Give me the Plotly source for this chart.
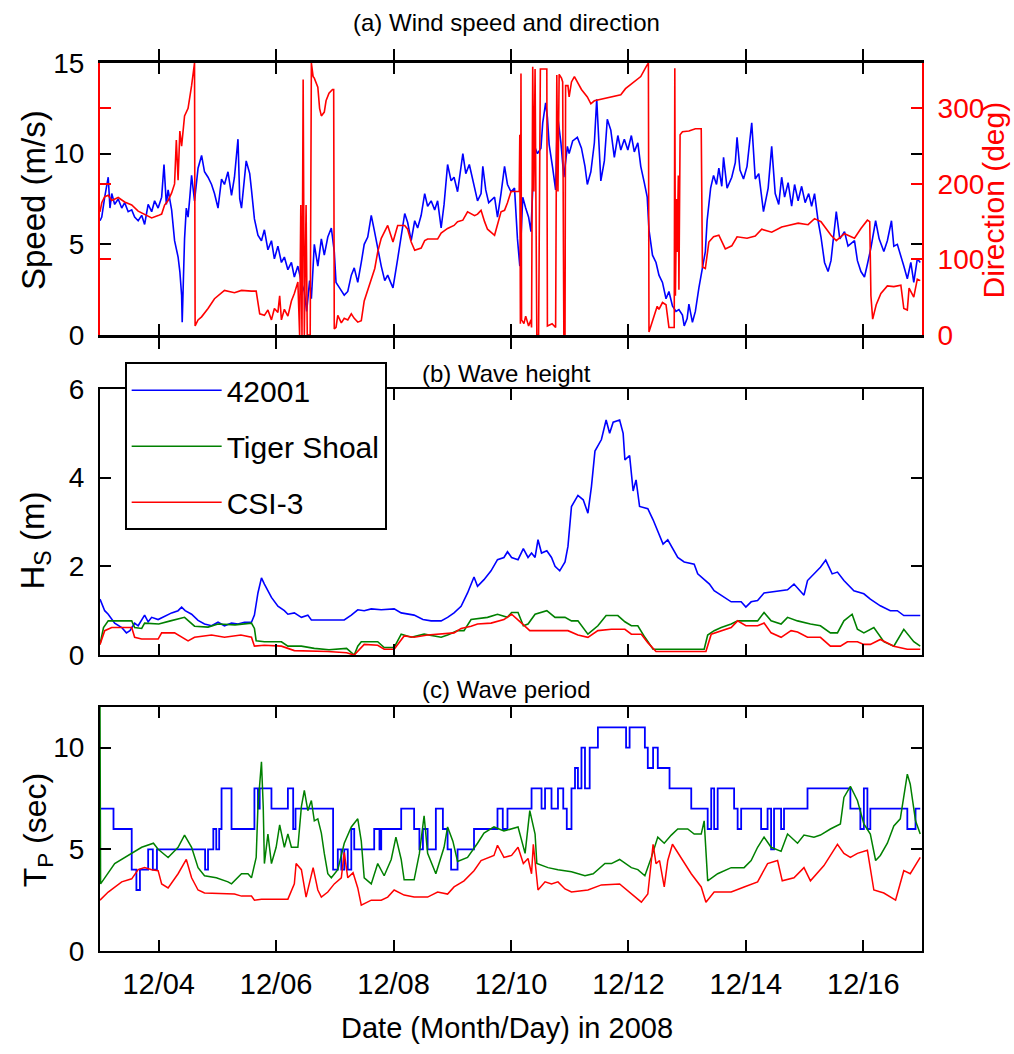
import numpy as np
import pandas as pd
import plotly.graph_objects as go

# ---------------- data (day of December 2008, value) ----------------
spd_day = [3.00,3.03,3.08,3.14,3.17,3.20,3.25,3.31,3.37,3.42,3.48,3.54,3.59,3.65,3.71,3.76,3.82,3.88,3.93,3.99,
           4.05,4.09,4.13,4.16,4.22,4.27,4.33,4.36,4.39,4.40,4.42,4.44,4.47,4.50,4.53,4.56,4.61,4.67,4.73,4.78,
           4.84,4.90,4.95,5.01,5.07,5.12,5.18,5.24,5.29,5.35,5.38,5.41,5.49,5.55,5.58,5.63,5.69,5.75,5.80,5.86,
           5.92,5.97,6.03,6.09,6.14,6.20,6.26,6.31,6.37,6.43,6.48,6.52,6.57,6.60,6.65,6.71,6.77,6.82,6.88,6.94,
           6.99,7.02,7.08,7.16,7.22,7.28,7.33,7.39,7.45,7.50,7.56,7.62,7.67,7.73,7.79,7.85,7.90,7.95,7.99,8.07,
           8.13,8.19,8.24,8.30,8.36,8.41,8.47,8.53,8.58,8.64,8.70,8.75,8.81,8.86,8.92,8.98,9.03,9.09,9.18,9.23,
           9.29,9.35,9.43,9.49,9.52,9.57,9.62,9.72,9.77,9.83,9.89,9.94,10.00,10.06,10.11,10.15,10.20,10.25,10.30,10.34,
           10.40,10.45,10.51,10.54,10.59,10.62,10.65,10.71,10.76,10.79,10.85,10.90,10.96,10.99,11.05,11.13,11.20,11.26,11.30,11.36,
           11.42,11.46,11.50,11.53,11.59,11.64,11.70,11.76,11.82,11.87,11.93,11.99,12.05,12.10,12.16,12.21,12.27,12.32,12.35,12.41,
           12.47,12.52,12.58,12.64,12.69,12.75,12.81,12.86,12.92,12.95,13.00,13.03,13.09,13.14,13.20,13.25,13.31,13.34,13.40,13.45,
           13.50,13.54,13.59,13.62,13.68,13.76,13.82,13.85,13.90,13.96,14.02,14.10,14.16,14.22,14.27,14.30,14.38,14.44,14.50,14.56,
           14.61,14.66,14.72,14.78,14.83,14.89,14.95,15.01,15.07,15.12,15.17,15.23,15.28,15.34,15.40,15.45,15.54,15.60,15.68,15.74,
           15.85,15.90,15.96,16.02,16.07,16.13,16.21,16.27,16.35,16.41,16.48,16.52,16.58,16.64,16.69,16.75,16.81,16.86,16.92,16.97]
spd = [6.3,6.5,7.6,8.7,7.0,7.8,7.2,7.5,7.0,7.3,6.8,6.9,6.5,6.3,6.6,6.1,7.2,6.8,7.4,7.0,
       7.6,9.4,7.2,8.0,6.9,5.2,4.3,3.5,2.2,0.7,3.0,5.3,7.0,6.5,7.6,8.8,7.4,9.2,9.9,9.0,
       8.7,8.3,7.8,7.0,8.6,8.3,9.0,7.7,8.7,10.8,7.5,7.0,9.6,8.9,8.0,6.4,5.5,5.2,5.8,4.7,
       5.2,4.2,4.9,4.0,4.3,3.6,4.0,3.2,3.8,2.9,2.4,1.3,3.0,2.0,5.0,3.8,5.3,4.4,5.4,5.9,
       4.6,2.9,2.6,2.2,2.4,3.3,3.7,2.9,4.0,5.0,5.4,6.6,5.8,4.7,3.8,3.0,3.3,2.9,2.6,4.2,
       5.5,6.7,6.2,5.2,6.3,5.9,6.6,7.8,7.1,7.4,6.9,7.4,5.9,7.2,9.4,8.5,8.7,7.9,10.0,8.9,
       9.4,8.6,7.4,7.8,9.3,8.0,7.3,7.6,6.5,7.8,9.3,8.3,7.9,8.1,5.3,3.8,7.6,7.0,6.5,5.7,
       10.4,10.0,10.3,11.7,12.8,12.0,10.5,9.2,8.0,12.2,10.6,8.7,10.4,10.0,10.7,10.9,10.3,9.3,8.3,9.0,
       10.6,13.0,10.2,8.5,9.6,11.9,11.3,9.8,11.0,10.2,10.8,10.2,11.0,10.1,10.6,9.3,8.4,7.6,5.8,4.4,
       4.0,3.3,2.9,2.0,2.4,1.6,1.3,1.4,1.1,0.5,0.9,1.7,0.7,1.3,2.6,3.6,4.6,6.3,8.1,8.8,
       8.3,9.2,8.2,9.8,8.1,8.7,9.5,10.9,9.1,8.6,9.3,11.7,8.6,8.9,7.6,6.8,8.1,10.4,7.8,7.2,
       8.7,7.6,8.4,7.1,8.3,7.4,8.2,7.3,7.8,7.1,7.8,6.3,5.4,4.0,3.5,4.1,6.8,5.3,5.7,4.9,
       5.2,4.1,3.5,3.2,3.9,4.8,6.3,5.3,4.6,5.2,6.3,4.9,5.0,4.4,3.8,3.1,4.0,2.9,4.2,4.0]

dir_day = [3.00,3.03,3.08,3.14,3.20,3.31,3.42,3.54,3.65,3.76,3.88,3.99,4.05,4.10,4.16,4.22,4.27,4.30,4.33,4.36,
           4.39,4.44,4.50,4.56,4.61,4.62,4.67,4.73,4.84,4.95,5.07,5.12,5.29,5.41,5.58,5.66,5.72,5.80,5.86,5.92,
           5.97,6.03,6.06,6.09,6.14,6.20,6.26,6.31,6.37,6.40,6.42,6.44,6.46,6.48,6.51,6.53,6.58,6.60,6.63,6.65,
           6.71,6.74,6.77,6.82,6.85,6.90,6.96,6.98,6.99,7.02,7.05,7.11,7.16,7.22,7.28,7.33,7.39,7.45,7.50,7.56,
           7.62,7.68,7.73,7.79,7.90,7.99,8.07,8.19,8.24,8.30,8.36,8.47,8.53,8.58,8.75,8.81,8.92,9.03,9.09,9.18,
           9.26,9.32,9.38,9.43,9.49,9.55,9.60,9.72,9.77,9.83,9.89,9.94,10.00,10.06,10.11,10.14,10.15,10.16,10.17,10.18,
           10.22,10.25,10.30,10.34,10.35,10.37,10.39,10.41,10.44,10.47,10.50,10.61,10.62,10.70,10.76,10.78,10.80,10.82,10.86,10.88,
           10.90,10.92,10.93,10.97,10.99,11.03,11.08,11.13,11.20,11.30,11.36,11.42,11.53,11.64,11.76,11.87,11.95,12.02,12.10,12.21,
           12.30,12.34,12.35,12.41,12.49,12.52,12.58,12.64,12.69,12.75,12.78,12.79,12.80,12.82,12.83,12.85,12.86,12.88,12.92,13.03,
           13.14,13.24,13.26,13.31,13.37,13.45,13.54,13.65,13.76,13.85,14.02,14.16,14.27,14.44,14.61,14.72,14.89,15.06,15.17,15.28,
           15.45,15.54,15.68,15.85,15.96,16.07,16.11,16.13,16.16,16.22,16.30,16.41,16.52,16.64,16.69,16.75,16.78,16.86,16.92,16.97]
direction = [163,175,183,185,178,182,176,172,164,160,155,158,160,172,178,188,200,258,205,270,
             250,290,300,330,360,12,20,24,35,48,56,59,56,59,58,58,28,26,33,20,
             35,30,52,20,34,25,45,55,70,0,172,0,338,0,172,0,0,360,342,340,
             328,300,290,295,310,320,325,325,8,10,26,16,22,20,28,22,17,19,45,60,
             75,88,110,128,145,123,145,145,140,123,112,115,125,127,127,135,141,145,150,152,
             163,160,158,160,165,150,140,132,145,163,165,175,190,190,190,190,265,15,346,20,
             15,25,12,20,10,355,190,352,0,0,352,352,12,15,10,344,190,345,340,335,
             0,0,330,330,315,335,342,335,325,315,306,310,312,314,316,318,326,330,335,342,
             355,360,4,20,38,34,43,40,10,10,10,353,52,180,110,211,60,265,269,270,
             273,273,90,88,123,130,132,114,118,130,128,131,140,136,143,145,148,146,154,150,
             132,125,134,128,141,152,150,52,21,40,55,65,64,66,35,33,62,50,74,72]

hs1_day = [3.00,3.08,3.14,3.25,3.37,3.45,3.51,3.59,3.65,3.76,3.82,3.88,3.99,4.10,4.22,4.33,4.39,4.45,4.56,4.67,
           4.78,4.90,5.01,5.12,5.24,5.35,5.46,5.58,5.63,5.69,5.75,5.80,5.92,6.03,6.14,6.20,6.31,6.43,6.54,6.60,
           6.71,7.16,7.28,7.39,7.50,7.62,7.79,8.01,8.13,8.24,8.35,8.50,8.64,8.81,8.92,9.03,9.15,9.26,9.37,9.43,
           9.54,9.66,9.77,9.88,9.94,10.01,10.12,10.21,10.29,10.35,10.41,10.46,10.52,10.61,10.69,10.75,10.83,10.92,10.97,11.03,
           11.14,11.23,11.31,11.37,11.43,11.54,11.62,11.68,11.74,11.85,11.91,11.94,12.02,12.08,12.13,12.19,12.33,12.42,12.50,12.59,
           12.67,12.84,12.95,13.12,13.18,13.29,13.38,13.46,13.63,13.75,13.92,14.00,14.09,14.20,14.31,14.54,14.71,14.82,14.93,14.99,
           15.05,15.16,15.27,15.36,15.47,15.56,15.67,15.84,16.01,16.12,16.29,16.46,16.58,16.69,16.97]
hs1 = [1.26,1.0,0.92,0.72,0.62,0.5,0.55,0.72,0.66,0.90,0.75,0.85,0.80,0.88,0.95,1.0,1.08,1.0,0.92,0.78,
       0.70,0.66,0.74,0.66,0.72,0.70,0.74,0.74,0.90,1.4,1.74,1.6,1.3,1.1,1.0,0.92,0.95,0.85,0.90,0.79,
       0.79,0.79,0.90,1.02,1.0,1.04,1.02,1.04,0.95,0.92,0.90,0.80,0.77,0.77,0.85,0.95,1.1,1.4,1.76,1.55,
       1.7,1.9,2.15,2.2,2.33,2.2,2.15,2.40,2.2,2.3,2.2,2.6,2.3,2.35,2.2,2.0,1.9,2.1,2.45,3.35,
       3.6,3.5,3.2,3.8,4.6,4.86,5.3,5.0,5.25,5.3,5.0,4.4,4.5,3.7,3.95,3.35,3.3,3.05,2.8,2.5,
       2.6,2.2,2.1,2.05,1.83,1.7,1.6,1.45,1.3,1.2,1.2,1.08,1.2,1.23,1.4,1.45,1.47,1.6,1.45,1.35,
       1.68,1.83,1.98,2.14,1.83,1.87,1.68,1.45,1.38,1.26,1.11,1.0,1.0,0.89,0.89]

hs2_day = [3.00,3.06,3.14,3.54,3.59,3.71,3.76,4.00,4.20,4.44,4.61,4.84,5.01,5.30,5.58,5.63,5.66,5.80,6.09,6.20,
           6.43,6.65,6.90,7.20,7.33,7.39,7.45,7.73,7.84,8.01,8.13,8.30,8.52,8.81,8.92,9.09,9.20,9.32,9.60,9.77,
           9.94,10.01,10.12,10.21,10.29,10.41,10.61,10.75,10.92,11.03,11.14,11.31,11.48,11.62,11.82,11.94,12.05,12.16,12.28,12.42,
           13.29,13.35,13.46,13.58,13.75,13.86,14.20,14.31,14.43,14.60,14.71,14.88,15.10,15.27,15.44,15.56,15.67,15.81,15.90,16.01,
           16.18,16.35,16.52,16.69,16.86,16.97]
hs2 = [0.24,0.62,0.77,0.77,0.62,0.60,0.72,0.70,0.77,0.85,0.65,0.63,0.70,0.68,0.72,0.60,0.32,0.30,0.30,0.20,
       0.20,0.15,0.12,0.15,0.0,0.2,0.30,0.30,0.17,0.17,0.47,0.40,0.47,0.40,0.45,0.55,0.55,0.80,0.85,0.92,
       0.85,0.96,0.96,0.66,0.70,0.92,1.0,0.85,0.85,0.77,0.77,0.47,0.66,0.89,0.89,0.75,0.66,0.66,0.40,0.13,
       0.13,0.45,0.55,0.62,0.70,0.77,0.77,0.96,0.77,0.70,0.85,0.77,0.70,0.66,0.50,0.50,0.77,0.92,0.58,0.50,
       0.62,0.30,0.20,0.58,0.30,0.20]

hs3_day = [3.00,3.08,3.20,3.54,3.59,3.71,3.99,4.05,4.27,4.50,4.61,4.90,5.12,5.40,5.58,5.63,5.80,6.09,6.31,6.88,
           7.20,7.33,7.50,7.73,7.84,8.01,8.18,8.35,8.58,8.92,9.03,9.15,9.32,9.43,9.66,9.88,10.01,10.18,10.32,10.58,
           10.97,11.14,11.31,11.48,11.71,11.94,12.05,12.22,12.33,12.47,13.32,13.41,13.58,13.75,13.86,14.00,14.20,14.31,14.43,14.60,
           14.77,14.88,15.05,15.27,15.44,15.61,15.73,15.90,16.01,16.12,16.29,16.52,16.75,16.97]
hs3 = [0.24,0.55,0.62,0.62,0.40,0.36,0.36,0.50,0.50,0.32,0.40,0.45,0.40,0.45,0.40,0.20,0.22,0.20,0.10,0.08,
       0.05,0.0,0.24,0.22,0.13,0.13,0.43,0.40,0.45,0.50,0.50,0.60,0.65,0.70,0.72,0.80,0.92,0.72,0.55,0.55,
       0.55,0.45,0.40,0.55,0.58,0.58,0.47,0.47,0.28,0.08,0.08,0.47,0.55,0.62,0.77,0.66,0.66,0.72,0.50,0.40,
       0.55,0.52,0.40,0.40,0.20,0.20,0.30,0.30,0.24,0.24,0.35,0.20,0.13,0.13]

tp1_day = [3.00,3.23,3.54,3.62,3.68,3.82,3.90,3.97,4.79,4.84,4.93,4.98,5.03,5.07,5.24,5.63,5.69,5.72,5.92,6.20,
           6.29,6.33,6.97,7.05,7.11,7.16,7.22,7.28,7.33,7.67,7.76,7.79,8.13,8.35,8.44,8.50,8.58,8.72,8.84,8.92,
           8.98,9.09,9.37,9.77,9.86,9.94,10.35,10.52,10.58,10.69,10.80,10.89,10.95,11.03,11.09,11.14,11.20,11.26,11.34,11.48,
           11.96,12.02,12.28,12.33,12.42,12.50,12.70,13.07,13.35,13.41,13.46,13.52,13.80,13.86,13.92,14.26,14.37,14.43,14.48,14.60,
           14.65,15.05,15.78,15.95,16.01,16.07,16.12,16.75,16.89,16.97]
tp1 = [7,6,4,3,4,5,4,5,4,5,6,5,6,8,6,8,7,8,7,8,
       6,7,4,5,4,5,4,6,5,6,5,6,7,6,5,6,5,7,6,5,
       4,5,6,7,6,7,8,7,8,7,8,7,6,8,9,8,10,8,10,11,
       10,11,10,9,10,9,8,7,6,8,6,8,7,6,7,6,7,5,7,6,
       7,8,7,6,8,6,7,6,7,7]

tp2_day = [3.00,3.01,3.25,3.48,3.71,3.91,3.99,4.16,4.33,4.44,4.56,4.67,4.78,4.98,5.18,5.24,5.41,5.52,5.58,5.66,
           5.69,5.75,5.78,5.80,5.86,5.92,6.00,6.06,6.14,6.20,6.26,6.37,6.43,6.48,6.54,6.60,6.65,6.71,6.77,6.82,
           6.88,6.94,7.05,7.16,7.28,7.39,7.45,7.50,7.62,7.73,7.84,7.96,8.04,8.13,8.18,8.35,8.44,8.52,8.58,8.72,
           8.86,8.92,9.01,9.09,9.26,9.43,9.54,9.71,9.88,10.12,10.24,10.32,10.41,10.44,10.63,10.80,11.03,11.26,11.40,11.60,
           11.71,11.85,12.05,12.16,12.28,12.39,12.50,12.61,12.73,12.84,13.01,13.12,13.24,13.29,13.35,13.52,13.75,13.97,14.09,14.20,
           14.31,14.43,14.60,14.71,14.88,14.99,15.16,15.27,15.44,15.61,15.67,15.78,15.90,16.01,16.12,16.21,16.29,16.41,16.52,16.63,
           16.69,16.75,16.80,16.89,16.97]
tp2 = [12.0,3.3,4.3,4.7,5.1,5.3,5.0,4.6,5.1,5.7,5.1,4.1,3.7,3.6,3.4,3.3,3.8,3.8,3.6,4.6,
       7.1,9.3,7.1,4.3,5.75,4.3,5.1,6.2,5.1,5.75,5.1,5.1,7.1,7.9,6.9,7.4,6.4,6.5,5.8,4.8,
       3.8,3.6,4.0,5.3,6.1,6.5,5.4,3.6,3.3,4.3,3.7,4.5,5.6,4.5,3.5,3.5,4.8,6.65,4.8,3.8,
       5.1,6.1,5.4,4.4,4.6,5.3,5.8,6.1,5.9,6.1,4.8,6.9,5.75,4.3,4.1,4.0,3.9,3.7,3.8,4.3,
       4.3,4.5,4.1,4.0,3.7,4.6,5.6,5.3,5.7,6.0,6.0,5.75,5.75,6.4,3.45,3.8,4.1,4.1,4.45,5.1,
       5.6,5.1,4.9,5.75,5.3,5.7,5.6,5.7,6.0,6.25,7.55,8.1,7.4,6.25,5.75,4.45,4.7,5.3,6.15,6.5,
       7.5,8.7,8.2,6.4,5.75]

tp3_day = [3.00,3.14,3.37,3.54,3.65,3.76,3.88,3.99,4.05,4.16,4.33,4.47,4.56,4.67,4.78,5.29,5.41,5.58,5.63,5.75,
           6.20,6.31,6.34,6.43,6.51,6.63,6.71,6.77,6.88,6.99,7.11,7.16,7.22,7.31,7.39,7.45,7.62,7.79,7.90,8.01,
           8.18,8.35,8.58,8.75,8.92,9.03,9.20,9.37,9.49,9.71,9.77,9.88,10.01,10.12,10.21,10.29,10.35,10.38,10.46,10.58,
           10.69,10.80,10.92,11.03,11.31,11.54,11.85,12.05,12.22,12.33,12.42,12.47,12.53,12.61,12.67,12.75,12.90,13.07,13.24,13.32,
           13.46,13.75,13.97,14.20,14.37,14.54,14.62,14.82,14.99,15.10,15.33,15.56,15.67,15.78,15.90,16.07,16.18,16.35,16.55,16.69,
           16.80,16.97]
tp3 = [2.5,2.9,3.4,3.55,4.0,4.1,4.0,3.95,3.3,3.1,3.8,4.5,3.6,3.0,2.85,2.8,2.7,2.7,2.5,2.55,
       2.55,3.3,4.3,4.0,2.65,4.1,3.0,2.65,2.9,3.3,3.6,4.85,3.6,3.85,3.1,2.25,2.5,2.5,2.65,3.0,
       2.75,2.65,2.65,2.9,2.8,3.15,3.45,3.95,4.45,4.7,5.2,4.6,4.7,5.1,4.3,4.55,3.8,5.25,3.0,3.4,
       3.3,3.4,3.05,2.9,3.0,3.25,3.3,2.8,2.4,2.8,5.25,4.3,4.45,3.15,4.45,5.25,4.6,3.8,3.15,2.4,
       2.9,2.9,3.15,3.4,4.3,4.45,3.45,3.6,4.1,3.45,4.2,5.25,4.8,4.6,4.8,4.95,3.0,2.85,2.5,3.95,
       3.8,4.6]

station_names = ["42001", "Tiger Shoal", "CSI-3"]
tick_days = [4, 6, 8, 10, 12, 14, 16]
tick_labels = ["12/04", "12/06", "12/08", "12/10", "12/12", "12/14", "12/16"]

# ---------------- helpers ----------------
BASE = pd.Timestamp("2008-12-01")
def to_time(days):
    return BASE + pd.to_timedelta(np.asarray(days, dtype=float) - 1.0, unit="D")

BLUE, GREEN, RED = "#0000FF", "#008000", "#FF0000"
FONT = "Liberation Sans, Arial, sans-serif"

fig = go.Figure()

# panel (a)
fig.add_trace(go.Scatter(x=to_time(spd_day), y=spd, mode="lines", line=dict(color=BLUE, width=1.6),
                         xaxis="x", yaxis="y", showlegend=False))
fig.add_trace(go.Scatter(x=to_time(dir_day), y=direction, mode="lines", line=dict(color=RED, width=1.6),
                         xaxis="x", yaxis="y2", showlegend=False))
# panel (b)
for d, v, c, n in [(hs1_day, hs1, BLUE, station_names[0]), (hs2_day, hs2, GREEN, station_names[1]),
                   (hs3_day, hs3, RED, station_names[2])]:
    fig.add_trace(go.Scatter(x=to_time(d), y=v, mode="lines", line=dict(color=c, width=1.6),
                             name=n, legendgroup=n, xaxis="x2", yaxis="y3", showlegend=True))
# panel (c)
fig.add_trace(go.Scatter(x=to_time(tp1_day), y=tp1, mode="lines", line=dict(color=BLUE, width=1.8, shape="hv"),
                         xaxis="x3", yaxis="y4", showlegend=False))
fig.add_trace(go.Scatter(x=to_time(tp2_day), y=tp2, mode="lines", line=dict(color=GREEN, width=1.5),
                         xaxis="x3", yaxis="y4", showlegend=False))
fig.add_trace(go.Scatter(x=to_time(tp3_day), y=tp3, mode="lines", line=dict(color=RED, width=1.5),
                         xaxis="x3", yaxis="y4", showlegend=False))

xr = [to_time([3.0])[0], to_time([17.0])[0]]
tickvals = list(to_time(tick_days))

def xax(anchor, labels, lw=2):
    return dict(anchor=anchor, range=xr, type="date", tickvals=tickvals, ticktext=tick_labels,
                showticklabels=labels, ticks="inside", ticklen=11, tickwidth=2, tickcolor="black",
                showline=True, linecolor="black", linewidth=lw, mirror="allticks", showgrid=False,
                zeroline=False, tickfont=dict(family=FONT, size=29, color="black"), ticklabelstandoff=6)

def yax(domain, rng, dtick, anchor="x"):
    return dict(domain=domain, range=rng, dtick=dtick, anchor=anchor, ticks="inside", ticklen=11, tickwidth=2,
                tickcolor="black", showline=True, linecolor="black", linewidth=2, mirror="allticks",
                showgrid=False, zeroline=False, tickfont=dict(family=FONT, size=28, color="black"),
                ticklabelstandoff=8)

da = [0.6937, 1.0]
db = [0.3333, 0.6329]
dc = [0.0, 0.2748]

ya = yax(da, [0, 15], 5)
ya["linecolor"] = RED
y2 = dict(overlaying="y", side="right", anchor="x", range=[0, 360], tickvals=[0, 100, 200, 300],
          ticks="inside", ticklen=11, tickwidth=2, tickcolor=RED, showline=True, linecolor=RED, linewidth=2,
          mirror="allticks", showgrid=False, zeroline=False,
          tickfont=dict(family=FONT, size=28, color=RED), ticklabelstandoff=8)

fig.update_layout(
    width=1014, height=1054, margin=dict(l=100, r=92, t=63, b=103),
    paper_bgcolor="white", plot_bgcolor="white",
    xaxis=xax("y", False, lw=3), yaxis=ya, yaxis2=y2,
    xaxis2=xax("y3", False), yaxis3=yax(db, [0, 6], 2, anchor="x2"),
    xaxis3=xax("y4", True), yaxis4=yax(dc, [0, 12], 5, anchor="x3"),
    legend=dict(x=0.03, y=0.663, xanchor="left", yanchor="top", bgcolor="white", bordercolor="black",
                borderwidth=2, font=dict(family=FONT, size=30, color="black"), itemwidth=90,
                tracegroupgap=14, traceorder="grouped"),
    showlegend=True,
)

ann = [
    dict(text="(a) Wind speed and direction", x=0.495, y=1.046, font=dict(family=FONT, size=24)),
    dict(text="(b) Wave height", x=0.495, y=0.6498, font=dict(family=FONT, size=24)),
    dict(text="(c) Wave period", x=0.495, y=0.295, font=dict(family=FONT, size=24)),
    dict(text="Date (Month/Day) in 2008", x=0.495, y=-0.0867, font=dict(family=FONT, size=29)),
    dict(text="Speed (m/s)", x=-0.0815, y=0.8457, textangle=-90, font=dict(family=FONT, size=33)),
    dict(text="Direction (deg)", x=1.087, y=0.8457, textangle=-90, font=dict(family=FONT, size=30, color=RED)),
    dict(text="H<sub>S</sub> (m)", x=-0.0785, y=0.4628, textangle=-90, font=dict(family=FONT, size=33)),
    dict(text="T<sub>P</sub> (sec)", x=-0.075, y=0.1363, textangle=-90, font=dict(family=FONT, size=32)),
]
for a in ann:
    a.update(xref="paper", yref="paper", showarrow=False, xanchor="center", yanchor="middle")
    a["font"].setdefault("color", "black")
fig.update_layout(annotations=ann)

fig.write_html("out.html")
